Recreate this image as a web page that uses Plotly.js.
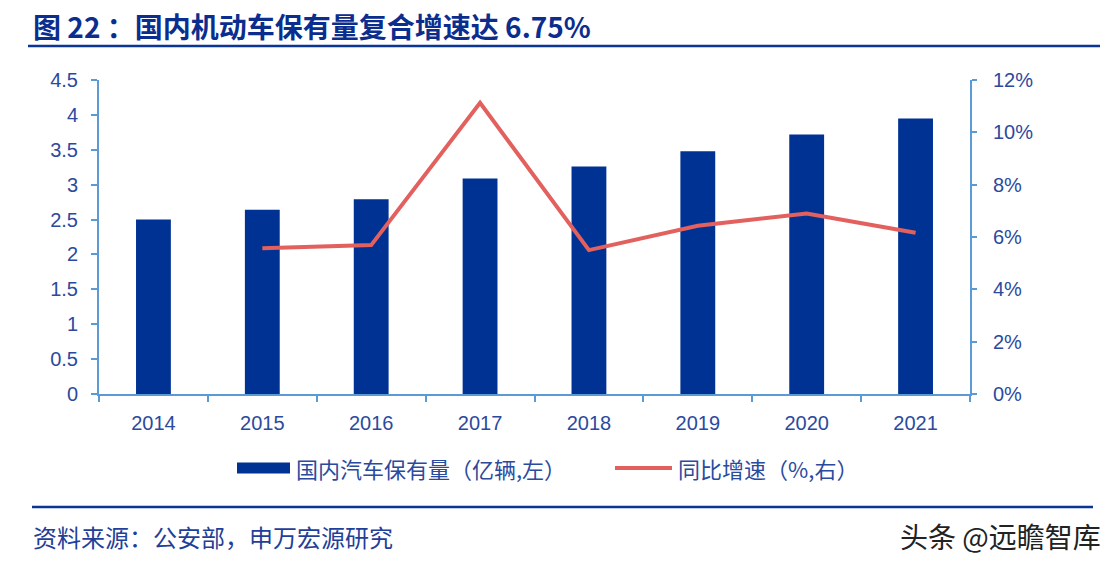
<!DOCTYPE html>
<html>
<head>
<meta charset="utf-8">
<script src="https://cdn.plot.ly/plotly-3.0.1.min.js"></script>
<style>html,body{margin:0;padding:0;background:#fff;}#chart{width:1118px;height:565px;}</style>
</head>
<body>
<div id="chart"></div>
<script>
// ---- data ----
const years = ['2014','2015','2016','2017','2018','2019','2020','2021'];
const carStock = [2.50, 2.64, 2.79, 3.09, 3.26, 3.48, 3.72, 3.95];
const growthYears = ['2015','2016','2017','2018','2019','2020','2021'];
const growthRate = [0.0557, 0.0569, 0.1113, 0.0550, 0.0643, 0.0690, 0.0616];
const leftTicks = [0, 0.5, 1, 1.5, 2, 2.5, 3, 3.5, 4, 4.5];
const rightTicks = [0, 0.02, 0.04, 0.06, 0.08, 0.10, 0.12];
const titleText = '图 22 ：国内机动车保有量复合增速达 6.75%';
const seriesNames = ['国内汽车保有量（亿辆,左）', '同比增速（%,右）'];
const sourceText = '资料来源：公安部，申万宏源研究';
const watermark = '头条 @远瞻智库';

// ---- layout helpers ----
const W = 1118, H = 565;
const M = {l: 99, r: 148, t: 80, b: 171};
const PW = W - M.l - M.r, PH = H - M.t - M.b;
const X = px => (px - M.l) / PW;
const Y = py => (H - M.b - py) / PH;

const navy = '#003293';
const red = '#E2605D';
const axisBlue = '#5B9BD5';
const tickColor = '#2B4A9E';
const cjk = '"Noto Sans CJK SC", "Noto Sans", sans-serif';
const latin = '"Liberation Sans", Arial, sans-serif';

const traces = [
  {
    type: 'bar', x: years, y: carStock, name: seriesNames[0],
    marker: {color: navy}, width: 0.32, yaxis: 'y', showlegend: false,
    hoverinfo: 'x+y'
  },
  {
    type: 'scatter', mode: 'lines', x: growthYears, y: growthRate, name: seriesNames[1],
    line: {color: red, width: 4}, yaxis: 'y2', showlegend: false
  }
];

const layout = {
  width: W, height: H,
  margin: M,
  paper_bgcolor: '#fff', plot_bgcolor: '#fff',
  showlegend: false,
  title: {
    text: '<b>' + titleText + '</b>',
    xref: 'container', yref: 'container',
    x: 33 / W, xanchor: 'left',
    y: 1 - 28 / H, yanchor: 'middle',
    font: {family: cjk, size: 28, color: '#0B2E8E'}
  },
  xaxis: {
    type: 'category',
    showline: true, linecolor: axisBlue, linewidth: 2,
    ticks: 'outside', tickson: 'boundaries', ticklen: 6, tickcolor: axisBlue, tickwidth: 2,
    ticklabelstandoff: 10,
    tickfont: {family: latin, size: 20, color: tickColor},
    showgrid: false, zeroline: false, fixedrange: true
  },
  yaxis: {
    range: [0, 4.5], tickvals: leftTicks,
    showline: true, linecolor: axisBlue, linewidth: 2,
    ticks: 'outside', ticklen: 6, tickcolor: axisBlue, tickwidth: 2,
    ticklabelstandoff: 9,
    tickfont: {family: latin, size: 20, color: tickColor},
    showgrid: false, zeroline: false, fixedrange: true
  },
  yaxis2: {
    overlaying: 'y', side: 'right',
    range: [0, 0.12], tickvals: rightTicks, tickformat: '.0%',
    showline: true, linecolor: axisBlue, linewidth: 2,
    ticks: 'outside', ticklen: 5, tickcolor: axisBlue, tickwidth: 2,
    ticklabelstandoff: 12,
    tickfont: {family: latin, size: 20, color: tickColor},
    showgrid: false, zeroline: false, fixedrange: true
  },
  shapes: [
    {type: 'line', xref: 'paper', yref: 'paper', x0: X(28), x1: X(1100), y0: Y(46), y1: Y(46),
     line: {color: '#0B3595', width: 2.5}},
    {type: 'line', xref: 'paper', yref: 'paper', x0: X(32), x1: X(1093), y0: Y(507), y1: Y(507),
     line: {color: '#0B3595', width: 2.5}},
    {type: 'rect', xref: 'paper', yref: 'paper', x0: X(237), x1: X(290), y0: Y(468 - 5.5), y1: Y(468 + 5.5),
     fillcolor: navy, line: {width: 0}},
    {type: 'line', xref: 'paper', yref: 'paper', x0: X(615), x1: X(672), y0: Y(468), y1: Y(468),
     line: {color: red, width: 4}}
  ],
  annotations: [
    {xref: 'paper', yref: 'paper', x: X(294), y: Y(468), xanchor: 'left', yanchor: 'middle',
     text: seriesNames[0], showarrow: false, font: {family: cjk, size: 22, color: tickColor}},
    {xref: 'paper', yref: 'paper', x: X(676), y: Y(468), xanchor: 'left', yanchor: 'middle',
     text: seriesNames[1], showarrow: false, font: {family: cjk, size: 22, color: tickColor}},
    {xref: 'paper', yref: 'paper', x: X(31), y: Y(536), xanchor: 'left', yanchor: 'middle',
     text: sourceText, showarrow: false, font: {family: cjk, size: 24, color: '#1F3F99'}},
    {xref: 'paper', yref: 'paper', x: X(1103), y: Y(536), xanchor: 'right', yanchor: 'middle',
     text: watermark, showarrow: false, font: {family: cjk, size: 28, color: '#222'}}
  ]
};

Plotly.newPlot('chart', traces, layout, {displayModeBar: false, staticPlot: true});
</script>
</body>
</html>
